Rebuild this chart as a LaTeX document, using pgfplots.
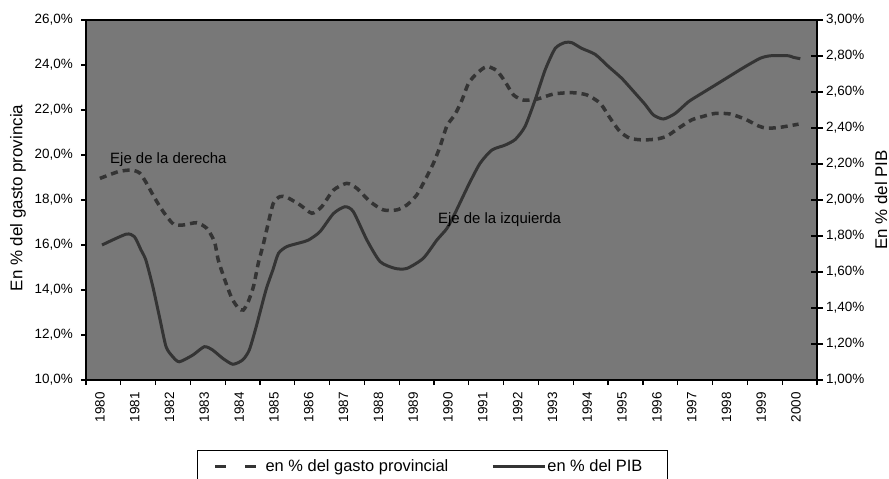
\documentclass[border=0pt]{standalone}
\usepackage{pgfplots}
\pgfplotsset{compat=1.18}
\usepackage{fontspec}
\setmainfont{Liberation Sans}
\definecolor{bgc}{RGB}{120,120,120}
\definecolor{lnc}{RGB}{52,52,52}
\pgfplotsset{
  dashleg/.style={legend image code/.code={\draw[##1, dash pattern=on 10.5bp off 19.5bp] (0bp,0bp) -- (41.5bp,0bp);}},
  solidleg/.style={legend image code/.code={\draw[##1] (0bp,0bp) -- (52bp,0bp);}},
}
\begin{document}
\begin{tikzpicture}
\path[use as bounding box] (-86bp,-99bp) rectangle (803bp,380bp);
\begin{axis}[
  at={(0,0)}, anchor=south west,
  width=731bp, height=360bp, scale only axis,
  xmin=1979.6, xmax=2000.6, ymin=10, ymax=26,
  axis background/.style={fill=bgc},
  axis line style={line width=1.2bp, black},
  tick style={line width=1.2bp, black},
  tick align=outside,
  major tick length=5bp,
  xtick={1979.6,1980.6,...,2000.6},
  xticklabels={},
  extra x ticks={1980,1981,1982,1983,1984,1985,1986,1987,1988,1989,1990,1991,1992,1993,1994,1995,1996,1997,1998,1999,2000},
  extra x tick labels={1980,1981,1982,1983,1984,1985,1986,1987,1988,1989,1990,1991,1992,1993,1994,1995,1996,1997,1998,1999,2000},
  extra x tick style={major tick length=0pt, xticklabel style={rotate=90, anchor=east, inner sep=0pt, xshift=-12bp, font=\fontsize{13.5}{16}\selectfont}},
  xtick pos=bottom, ytick pos=left,
  ytick={10,12,14,16,18,20,22,24,26},
  yticklabels={{10,0\%},{12,0\%},{14,0\%},{16,0\%},{18,0\%},{20,0\%},{22,0\%},{24,0\%},{26,0\%}},
  yticklabel style={font=\fontsize{13.5}{16}\selectfont, inner sep=0pt, xshift=-8bp},
  ylabel={En \% del gasto provincia},
  ylabel style={at={(axis description cs:-0.0930,0.5056)}, anchor=center, font=\fontsize{17}{20}\selectfont},
  legend columns=2,
  legend cell align=left,
  legend style={at={(axis description cs:0.15185,-0.19444)}, anchor=north west,
    draw=black, line width=1.2bp, fill=white, inner xsep=16bp, inner ysep=9bp,
    font=\fontsize{16.5}{19}\selectfont, nodes={inner sep=0pt},
    /tikz/column 1/.style={column sep=7bp},
    /tikz/column 2/.style={column sep=43bp},
    /tikz/column 3/.style={column sep=1bp}},
]
\addplot[color=lnc, line width=3.5bp, dash pattern=on 7bp off 5bp, smooth, tension=0.4, dashleg]
  coordinates {
  (1980.00,18.96) (1980.53,19.26) (1980.91,19.33) (1981.15,19.19) (1981.34,18.74)
  (1981.58,18.07) (1981.82,17.48) (1982.11,16.93) (1982.40,16.89) (1982.78,16.99)
  (1983.07,16.74) (1983.29,16.15) (1983.40,15.33) (1983.59,14.44) (1983.79,13.63)
  (1983.98,13.19) (1984.12,13.11) (1984.26,13.48) (1984.41,14.15) (1984.55,15.19)
  (1984.70,16.07) (1984.79,16.67) (1984.98,17.85) (1985.17,18.15) (1985.37,18.12)
  (1985.75,17.78) (1986.09,17.41) (1986.37,17.70) (1986.71,18.44) (1987.09,18.74)
  (1987.38,18.52) (1987.76,17.93) (1988.14,17.56) (1988.53,17.56) (1988.82,17.78)
  (1989.10,18.22) (1989.34,18.89) (1989.58,19.63) (1989.77,20.37) (1989.97,21.30)
  (1990.20,21.80) (1990.40,22.44) (1990.59,23.19) (1990.83,23.63) (1991.11,23.93)
  (1991.40,23.75) (1991.64,23.26) (1991.88,22.67) (1992.17,22.44) (1992.55,22.48)
  (1993.03,22.71) (1993.56,22.77) (1993.99,22.67) (1994.37,22.30) (1994.66,21.63)
  (1994.94,21.04) (1995.23,20.74) (1995.61,20.67) (1996.00,20.71) (1996.29,20.84)
  (1996.62,21.19) (1997.00,21.56) (1997.29,21.70) (1997.68,21.85) (1998.11,21.82)
  (1998.54,21.59) (1998.92,21.29) (1999.16,21.19) (1999.54,21.23) (2000.07,21.37)
  };
\addlegendentry{en \% del gasto provincial}
\addplot[color=lnc, line width=3bp, smooth, tension=0.4, solidleg]
  coordinates {
  (1980.06,16.00) (1980.75,16.48) (1980.99,16.37) (1981.18,15.78) (1981.32,15.33)
  (1981.52,14.15) (1981.71,12.81) (1981.90,11.48) (1982.09,11.04) (1982.28,10.81)
  (1982.67,11.11) (1983.00,11.48) (1983.24,11.33) (1983.53,10.96) (1983.82,10.70)
  (1984.10,10.89) (1984.29,11.33) (1984.49,12.37) (1984.77,14.00) (1984.97,14.90)
  (1985.13,15.63) (1985.37,15.93) (1985.75,16.10) (1985.99,16.22) (1986.32,16.59)
  (1986.71,17.40) (1987.04,17.70) (1987.28,17.48) (1987.67,16.22) (1988.05,15.26)
  (1988.48,14.96) (1988.82,14.96) (1989.29,15.41) (1989.68,16.22) (1989.97,16.74)
  (1990.20,17.41) (1990.59,18.67) (1990.92,19.63) (1991.26,20.22) (1991.64,20.44)
  (1991.93,20.69) (1992.21,21.26) (1992.50,22.44) (1992.79,23.78) (1993.08,24.74)
  (1993.36,25.00) (1993.56,24.99) (1993.84,24.74) (1994.23,24.47) (1994.61,23.93)
  (1994.99,23.41) (1995.38,22.74) (1995.66,22.25) (1995.90,21.78) (1996.19,21.60)
  (1996.53,21.85) (1996.91,22.37) (1997.29,22.74) (1997.68,23.11) (1998.15,23.56)
  (1998.54,23.93) (1998.97,24.30) (1999.26,24.41) (1999.78,24.41) (1999.92,24.34)
  (2000.12,24.28)
  };
\addlegendentry{en \% del PIB\rule{9bp}{0pt}}
\node[anchor=west, inner sep=0pt, font=\fontsize{15}{18}\selectfont] at (axis cs:1980.29,19.78) {Eje de la derecha};
\node[anchor=west, inner sep=0pt, font=\fontsize{15}{18}\selectfont] at (axis cs:1989.71,17.11) {Eje de la izquierda};
\end{axis}
\begin{axis}[
  at={(0,0)}, anchor=south west,
  width=731bp, height=360bp, scale only axis,
  xmin=1979.6, xmax=2000.6, ymin=1, ymax=3,
  axis x line=none, axis y line*=right,
  axis line style={line width=1.2bp, black, -},
  tick style={line width=1.2bp, black},
  tick align=center, major tick length=12bp,
  ytick={1,1.2,1.4,1.6,1.8,2,2.2,2.4,2.6,2.8,3},
  yticklabels={{1,00\%},{1,20\%},{1,40\%},{1,60\%},{1,80\%},{2,00\%},{2,20\%},{2,40\%},{2,60\%},{2,80\%},{3,00\%}},
  yticklabel style={font=\fontsize{13.5}{16}\selectfont, inner sep=0pt, xshift=3bp},
  ylabel={En \% del PIB},
  ylabel style={at={(axis description cs:1.0876,0.5)}, anchor=center, font=\fontsize{17}{20}\selectfont},
]
\end{axis}
\end{tikzpicture}
\end{document}
